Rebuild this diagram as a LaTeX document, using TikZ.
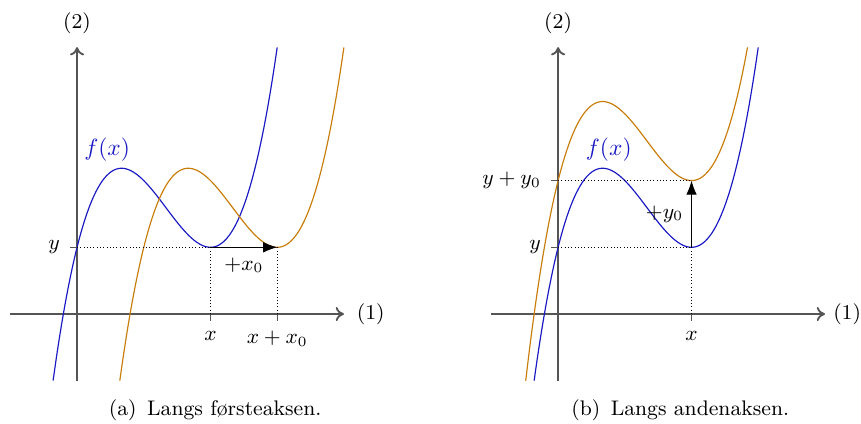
\documentclass[tikz,border=0pt]{standalone}
\usepackage{amsmath}
\usepackage{fontspec}
\usepackage{tikz}
\usetikzlibrary{positioning,arrows.meta,calc}
\definecolor{fblue}{RGB}{25,25,195}
\definecolor{gorange}{RGB}{200,125,10}
\definecolor{axgray}{RGB}{85,85,85}
\tikzset{
  every node/.append style={font=\small},
  axis/.style={draw=axgray,line width=0.8pt,-{To[length=3.5pt,width=6pt]}},
  graph/.style={fblue,line width=0.5pt,smooth,samples=90},
  moved/.style={gorange,line width=0.5pt,smooth,samples=90},
  help/.style={densely dotted,thin},
  arr/.style={-{Latex[length=6pt]},thin},
  tick/.style={draw=axgray,line width=0.5pt}
}

\begin{document}
\begin{tikzpicture}[declare function={f(\x)=\x*(\x-2)^2+1;}]
\useasboundingbox (-1.155,-1.634) rectangle (11.75,4.707);

% (a) shift along the first axis
\coordinate (xs) at (-1,0);
\coordinate (xe) at (4,0);
\coordinate (ys) at (0,-1);
\coordinate (ye) at (0,4);
\draw[axis] (xs) -- (xe);
\draw[axis] (ys) -- (ye);
\node[right=2pt of xe] (e1) {(1)};
\node[above=2pt of ye] (e2) {(2)};

\draw[graph] plot[domain=-0.359:3] (\x,{f(\x)});
\draw[moved] plot[domain=0.641:4] (\x,{f(\x-1)});

\coordinate (y) at (0,1);
\coordinate (yt) at (-0.1,1);
\coordinate (p) at (2,1);
\coordinate (q) at (3,1);
\coordinate (px) at (2,0);
\coordinate (qx) at (3,0);
\coordinate (pt) at (2,-0.1);
\coordinate (qt) at (3,-0.1);

\draw[help] (y) -- (p);
\draw[help] (p) -- (px);
\draw[help] (q) -- (qx);
\draw[tick] (y) -- (yt);
\draw[tick] (px) -- (pt);
\draw[tick] (qx) -- (qt);
\draw[arr] (p) -- node[below=1pt] (lx0) {$+x_0$} (q);

\node[left=1pt of yt] (ly) {$y$};
\node[below=1pt of pt] (lx) {$x$};
\node[below=1pt of qt] (lxx) {$x + x_0$};
\node[fblue,font=\normalsize] (fa) at (0.45,2.46) {$f(x)$};
\node (capa) at (2.07,-1.44) {(a)\enspace Langs førsteaksen.};

% (b) shift along the second axis
\begin{scope}[xshift=7.21cm]
\coordinate (xsb) at (-1,0);
\coordinate (xeb) at (4,0);
\coordinate (ysb) at (0,-1);
\coordinate (yeb) at (0,4);
\draw[axis] (xsb) -- (xeb);
\draw[axis] (ysb) -- (yeb);
\node[right=0pt of xeb] (e1b) {(1)};
\node[above=2pt of yeb] (e2b) {(2)};

\draw[moved] plot[domain=-0.4856:2.8393] (\x,{f(\x)+1});
\draw[graph] plot[domain=-0.359:3] (\x,{f(\x)});

\coordinate (yb) at (0,1);
\coordinate (ybt) at (-0.1,1);
\coordinate (yyb) at (0,2);
\coordinate (yybt) at (-0.1,2);
\coordinate (pb) at (2,1);
\coordinate (qb) at (2,2);
\coordinate (pbx) at (2,0);
\coordinate (pbt) at (2,-0.1);

\draw[help] (yb) -- (pb);
\draw[help] (yyb) -- (qb);
\draw[help] (pb) -- (pbx);
\draw[tick] (yb) -- (ybt);
\draw[tick] (yyb) -- (yybt);
\draw[tick] (pbx) -- (pbt);
\draw[arr] (pb) -- node[left=0pt] (ly0) {$+y_0$} (qb);

\node[left=1pt of ybt] (lyb) {$y$};
\node[left=1pt of yybt] (lyy) {$y + y_0$};
\node[below=1pt of pbt] (lxb) {$x$};
\node[fblue,font=\normalsize] (fb) at (0.76,2.46) {$f(x)$};
\node (capb) at (1.83,-1.44) {(b)\enspace Langs andenaksen.};
\end{scope}
\end{tikzpicture}
\end{document}
